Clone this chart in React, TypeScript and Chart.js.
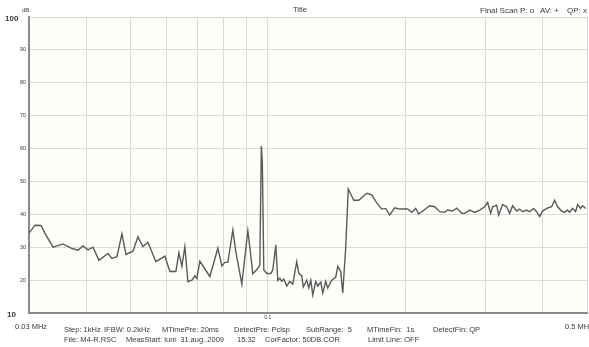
import React, { useEffect, useRef } from "react";
import { Chart, registerables } from "chart.js";

Chart.register(...registerables);

// Frequency (MHz) of each trace point
const freqMHz = [
  0.0300, 0.03092, 0.03187, 0.03252, 0.03386, 0.03561, 0.03726, 0.03840, 0.03938, 0.04039,
  0.04142, 0.04269, 0.04467, 0.04558, 0.04674, 0.04793, 0.04891, 0.05066, 0.05196, 0.05328,
  0.05464, 0.05689, 0.05953, 0.06104, 0.06292, 0.06388, 0.06484, 0.06583, 0.06684, 0.06820,
  0.06923, 0.06993, 0.07099, 0.07467, 0.07774, 0.07932, 0.08054, 0.08176, 0.08384, 0.08513,
  0.08774, 0.09043, 0.09133, 0.09272, 0.09509, 0.09607, 0.09680, 0.09729, 0.09800, 0.09950,
  0.10154, 0.10257, 0.10412, 0.10517, 0.10625, 0.10731, 0.10842, 0.11005, 0.11172, 0.11342,
  0.11573, 0.11692, 0.11870, 0.11960, 0.12171, 0.12296, 0.12421, 0.12545, 0.12735, 0.12867,
  0.13063, 0.13193, 0.13394, 0.13532, 0.13807, 0.14089, 0.14231, 0.14446, 0.14593, 0.14815,
  0.15005, 0.15427, 0.15820, 0.16471, 0.16891, 0.17322, 0.17762, 0.18125, 0.18494, 0.18966,
  0.19448, 0.20250, 0.20663, 0.21083, 0.21404, 0.21840, 0.22624, 0.23201, 0.23793, 0.24400,
  0.24772, 0.25403, 0.25919, 0.26582, 0.26987, 0.27673, 0.28381, 0.29105, 0.29848, 0.30300,
  0.30764, 0.31075, 0.31708, 0.32029, 0.32681, 0.33347, 0.33854, 0.34369, 0.35067, 0.35603,
  0.36146, 0.36882, 0.37441, 0.38206, 0.38788, 0.39376, 0.39978, 0.40792, 0.41833, 0.42467,
  0.43117, 0.43994, 0.44662, 0.45345, 0.45801, 0.46498, 0.47210, 0.47688, 0.48414, 0.48900,
  0.49649,
];

// Measured level (dB) at each frequency
const levelDb = [
  34.3, 36.7, 36.6, 34.2, 30.0, 31.0, 29.6, 29.1, 30.4, 29.2,
  30.0, 26.0, 28.1, 26.6, 27.1, 34.1, 27.8, 28.8, 33.2, 30.2,
  31.5, 25.6, 27.3, 22.6, 22.6, 28.3, 24.2, 30.2, 19.5, 20.0,
  21.3, 20.5, 25.8, 21.1, 29.7, 24.3, 25.4, 25.4, 35.2, 28.6,
  18.8, 35.0, 30.0, 21.9, 23.6, 24.6, 60.8, 56.0, 23.1, 22.0,
  22.0, 23.1, 30.7, 19.9, 20.6, 19.6, 20.3, 18.2, 19.6, 18.8,
  25.6, 22.1, 21.2, 17.9, 20.0, 17.6, 20.0, 15.5, 19.6, 18.2,
  19.4, 16.1, 19.6, 17.6, 20.0, 20.9, 24.2, 22.6, 16.1, 30.0,
  47.7, 44.3, 44.3, 46.4, 45.9, 43.5, 41.6, 41.8, 39.8, 42.0,
  41.6, 41.6, 40.6, 41.8, 40.1, 41.0, 42.6, 42.3, 40.8, 40.6,
  41.3, 41.0, 41.9, 40.3, 40.3, 41.3, 40.6, 41.3, 42.3, 43.6,
  40.3, 42.3, 42.8, 39.8, 43.0, 42.3, 40.3, 42.6, 41.0, 41.6,
  40.8, 41.3, 40.8, 41.8, 40.8, 39.3, 41.0, 41.8, 42.3, 44.3,
  42.3, 41.0, 40.6, 41.3, 40.6, 41.8, 40.8, 43.0, 41.8, 42.6,
  41.8,
];

const xTickValues = [0.03, 0.04, 0.05, 0.06, 0.07, 0.08, 0.09, 0.1, 0.2, 0.3, 0.4, 0.5];
const yTickValues = [10, 20, 30, 40, 50, 60, 70, 80, 90, 100];

const titleText = "Title";
const unitText = "dB";
const scanText = ["Final Scan P: o", "AV: +", "QP: x"];
const xStartLabel = "0.03 MHz";
const xMidLabel = "0.1";
const xEndLabel = "0.5 MHz";
const infoLine1 = [
  { x: 64, t: "Step: 1kHz" },
  { x: 104, t: "IFBW: 0.2kHz" },
  { x: 162, t: "MTimePre: 20ms" },
  { x: 234, t: "DetectPre: Pclsp" },
  { x: 306, t: "SubRange:  5" },
  { x: 367, t: "MTimeFin:  1s" },
  { x: 433, t: "DetectFin: QP" },
];
const infoLine2 = [
  { x: 64, t: "File: M4-R.RSC" },
  { x: 126, t: "MeasStart: luni  31.aug..2009" },
  { x: 237, t: "15:32" },
  { x: 265, t: "CorFactor: 50DB.COR" },
  { x: 368, t: "Limit Line: OFF" },
];

const FONT = '"Liberation Sans", Arial, sans-serif';

const decorPlugin = {
  id: "decor",
  beforeDraw(chart: any) {
    const { ctx, chartArea, width, height } = chart;
    ctx.save();
    ctx.fillStyle = "#ffffff";
    ctx.fillRect(0, 0, width, height);
    ctx.fillStyle = "#fefefa";
    ctx.fillRect(chartArea.left, chartArea.top, chartArea.right - chartArea.left, chartArea.bottom - chartArea.top);
    ctx.restore();
  },
  afterDraw(chart: any) {
    const { ctx, scales } = chart;
    const xs = scales.x;
    const ys = scales.y;
    ctx.save();
    ctx.fillStyle = "#3a3a3a";
    ctx.textBaseline = "middle";
    yTickValues.forEach((v) => {
      const py = ys.getPixelForValue(v);
      if (v === 100 || v === 10) {
        ctx.font = `bold 8px ${FONT}`;
        ctx.textAlign = "left";
        ctx.fillText(String(v), v === 100 ? 5 : 7, py + 2);
      } else {
        ctx.font = `5.5px ${FONT}`;
        ctx.textAlign = "right";
        ctx.fillText(String(v), 26, py);
      }
    });
    ctx.font = `6px ${FONT}`;
    ctx.textAlign = "left";
    ctx.fillText(unitText, 22, 10);
    ctx.font = `7.5px ${FONT}`;
    ctx.textAlign = "center";
    ctx.fillText(titleText, 300, 10);
    ctx.font = `8px ${FONT}`;
    ctx.textAlign = "left";
    ctx.fillText(scanText[0], 480, 11);
    ctx.fillText(scanText[1], 540, 11);
    ctx.fillText(scanText[2], 567, 11);
    ctx.font = `5px ${FONT}`;
    ctx.textAlign = "center";
    ctx.fillText(xMidLabel, xs.getPixelForValue(0.1), 318);
    ctx.font = `7.5px ${FONT}`;
    ctx.textAlign = "left";
    ctx.fillText(xStartLabel, 15, 327);
    ctx.fillText(xEndLabel, 565, 327);
    infoLine1.forEach((it) => ctx.fillText(it.t, it.x, 330));
    infoLine2.forEach((it) => ctx.fillText(it.t, it.x, 340));
    ctx.restore();
  },
};

export default function App() {
  const ref = useRef<HTMLCanvasElement | null>(null);
  useEffect(() => {
    if (!ref.current) return;
    const chart = new Chart(ref.current, {
      type: "line",
      data: {
        datasets: [
          {
            data: freqMHz.map((f, i) => ({ x: f, y: levelDb[i] })),
            borderColor: "#5a5a5a",
            borderWidth: 1.4,
            pointRadius: 0,
            tension: 0,
          },
        ],
      },
      options: {
        animation: false,
        responsive: false,
        devicePixelRatio: 1,
        layout: { padding: { left: 29, right: 2, top: 17, bottom: 34 } },
        plugins: { legend: { display: false }, tooltip: { enabled: false }, title: { display: false } },
        scales: {
          x: {
            type: "logarithmic",
            min: 0.03,
            max: 0.5,
            afterBuildTicks: (scale: any) => {
              scale.ticks = xTickValues.map((v) => ({ value: v }));
            },
            ticks: { display: false },
            grid: { color: "#dadada", lineWidth: 1, drawTicks: false },
            border: { display: true, color: "#8a8a8a", width: 2 },
          },
          y: {
            type: "linear",
            min: 10,
            max: 100,
            afterBuildTicks: (scale: any) => {
              scale.ticks = yTickValues.map((v) => ({ value: v }));
            },
            ticks: { display: false },
            grid: { color: "#dadada", lineWidth: 1, drawTicks: false },
            border: { display: true, color: "#8a8a8a", width: 2 },
          },
        },
      },
      plugins: [decorPlugin],
    });
    return () => chart.destroy();
  }, []);
  return (
    <div style={{ position: "fixed", left: 0, top: 0, width: 589, height: 347 }}>
      <canvas ref={ref} width={589} height={347} style={{ display: "block", width: 589, height: 347 }} />
    </div>
  );
}
